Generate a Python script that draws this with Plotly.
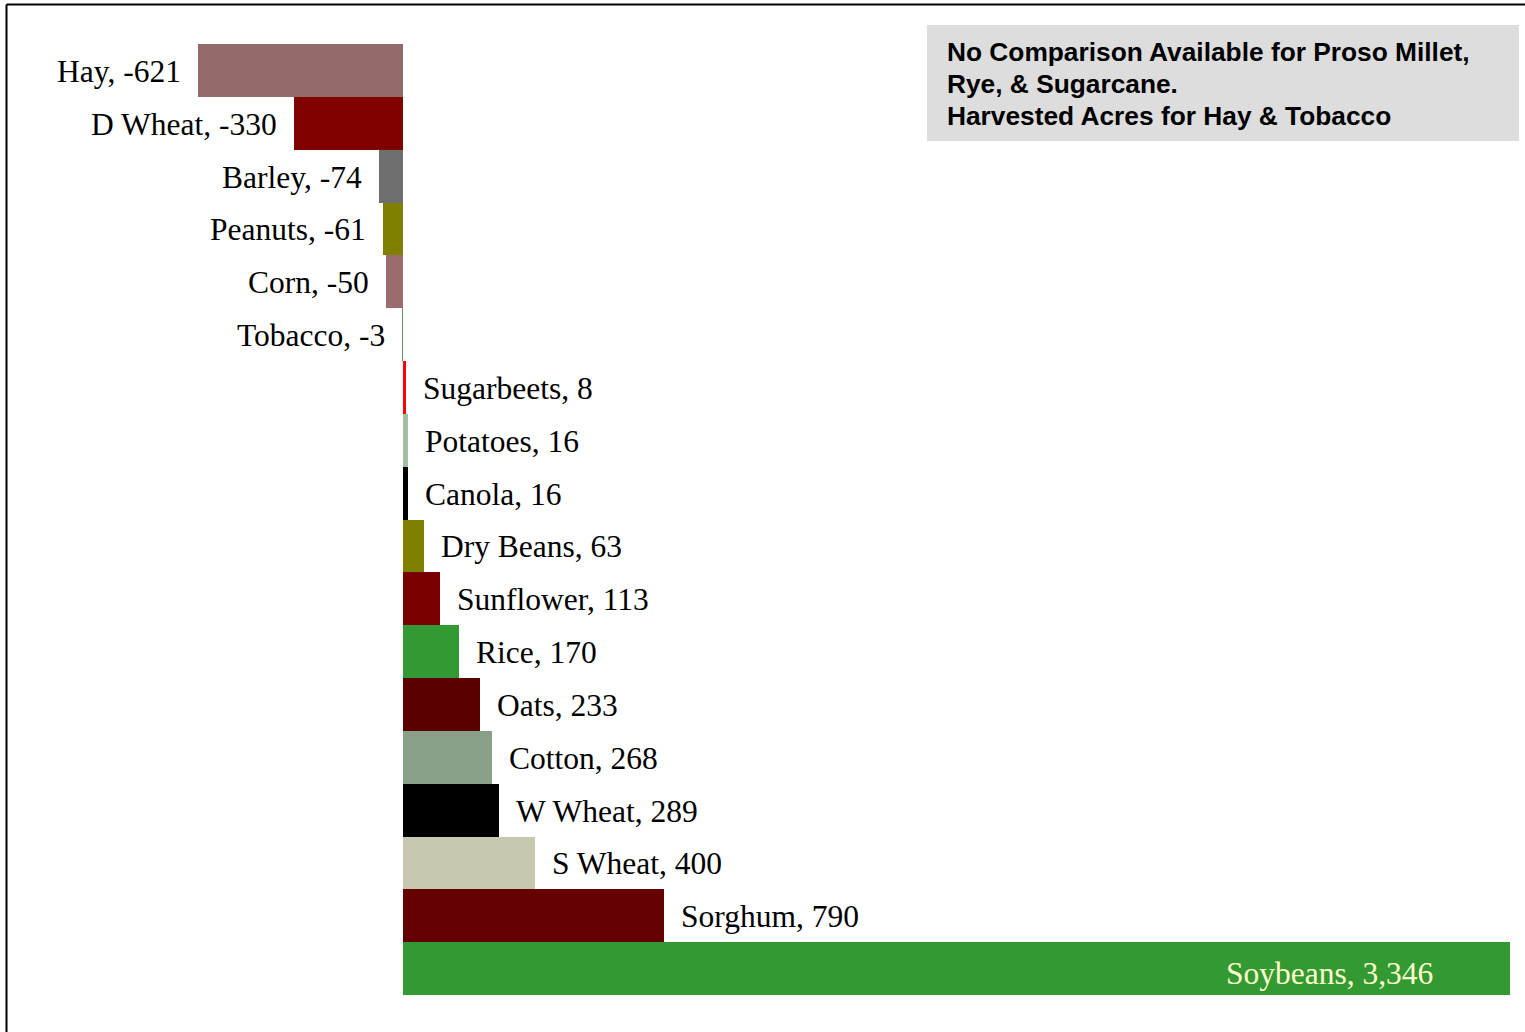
import plotly.graph_objects as go

# Change in planted acres by crop (thousand acres)
crops = ['Hay', 'D Wheat', 'Barley', 'Peanuts', 'Corn', 'Tobacco', 'Sugarbeets',
         'Potatoes', 'Canola', 'Dry Beans', 'Sunflower', 'Rice', 'Oats', 'Cotton',
         'W Wheat', 'S Wheat', 'Sorghum', 'Soybeans']
changes = [-621, -330, -74, -61, -50, -3, 8, 16, 16, 63, 113, 170, 233, 268,
           289, 400, 790, 3346]
colors = ['#946b6b', '#800000', '#6e6e6e', '#808000', '#9c6b6b', '#669966',
          '#ff0000', '#a0c0a0', '#000000', '#808000', '#780000', '#339933',
          '#5a0000', '#88a088', '#000000', '#c8c8b0', '#640000', '#339933']
note_lines = ['No Comparison Available for Proso Millet,',
              'Rye, & Sugarcane.',
              'Harvested Acres for Hay & Tobacco']

W, H = 1525, 1032
SERIF = 'Liberation Serif, Times New Roman, serif'

fig = go.Figure()

fig.add_trace(go.Bar(
    x=changes,
    y=crops,
    orientation='h',
    marker=dict(color=colors, line=dict(width=0)),
    hoverinfo='x+y',
))

# Data labels: outside the bar end, except the largest bar (inside, light text)
biggest = max(changes)
for crop, val in zip(crops, changes):
    label = f'{crop}, {val:,}'
    if val == biggest:
        fig.add_annotation(x=val, y=crop, text=label, showarrow=False,
                           xanchor='right', xshift=-75, yshift=-5,
                           font=dict(family=SERIF, size=31.5, color='#ffffcc'))
    elif val < 0:
        fig.add_annotation(x=val, y=crop, text=label, showarrow=False,
                           xanchor='right', xshift=-15, yshift=-1,
                           font=dict(family=SERIF, size=31.5, color='black'))
    else:
        fig.add_annotation(x=val, y=crop, text=label, showarrow=False,
                           xanchor='left', xshift=15, yshift=-1,
                           font=dict(family=SERIF, size=31.5, color='black'))

# Plot area sits between y=44 and y=995 px, full width
m_t, m_b = 44, 37
ph = H - m_t - m_b


def py(p):
    return (H - m_b - p) / ph


def px(p):
    return p / W


# Note box
fig.add_shape(type='rect', xref='paper', yref='paper',
              x0=px(927), x1=px(1519), y0=py(141), y1=py(25),
              fillcolor='#dddddd', line_width=0, layer='below')
for i, line in enumerate(note_lines):
    fig.add_annotation(xref='paper', yref='paper', x=px(945), y=py(52 + 32 * i),
                       xanchor='left', yanchor='middle', align='left',
                       text=f'<b>{line}</b>', showarrow=False,
                       font=dict(family='Liberation Sans, Arial, sans-serif',
                                 size=26.3, color='black'))

# Chart frame (runs off the right and bottom edges)
fig.add_shape(type='line', xref='paper', yref='paper',
              x0=px(6.5), x1=px(6.5), y0=py(4.5), y1=py(1100),
              line=dict(color='black', width=2))
fig.add_shape(type='line', xref='paper', yref='paper',
              x0=px(6.5), x1=px(1600), y0=py(4.5), y1=py(4.5),
              line=dict(color='black', width=2))

fig.update_layout(
    width=W,
    height=H,
    margin=dict(l=0, r=0, t=m_t, b=m_b),
    plot_bgcolor='white',
    paper_bgcolor='white',
    bargap=0,
    showlegend=False,
    xaxis=dict(range=[-1218.1, 3391.4], visible=False, fixedrange=True),
    yaxis=dict(range=[17.5, -0.5], visible=False, fixedrange=True),
)

fig.write_html('out.html', config={'displayModeBar': False},
               post_script="document.body.style.margin='0';")
